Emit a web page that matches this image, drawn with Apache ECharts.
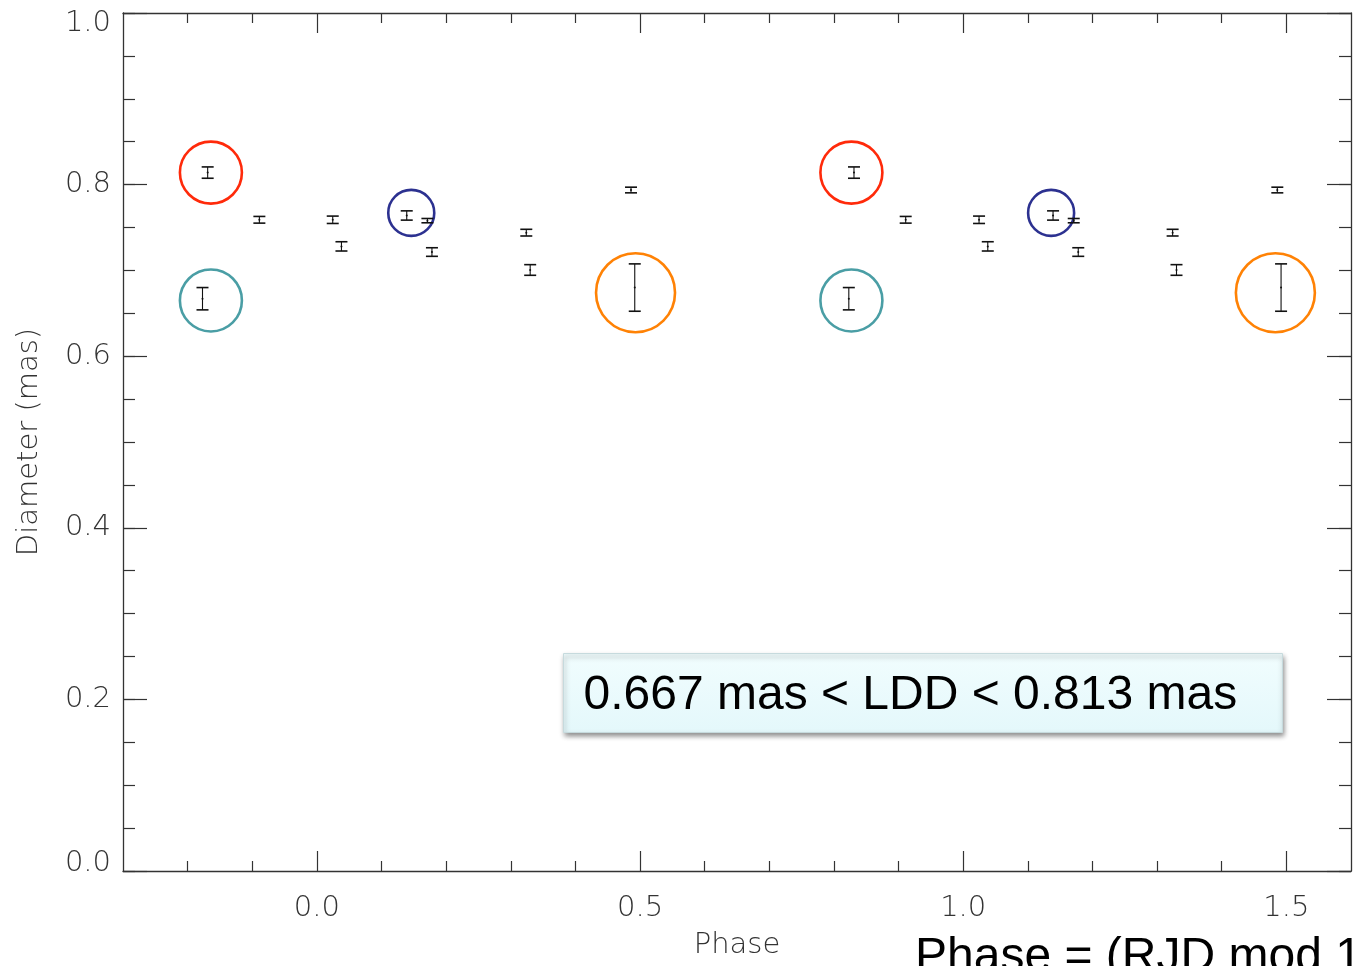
<!DOCTYPE html>
<html>
<head>
<meta charset="utf-8">
<title>Diameter vs Phase</title>
<script src="https://cdn.jsdelivr.net/npm/echarts@6/dist/echarts.min.js"></script>
<style>
  html, body { margin: 0; padding: 0; background: #ffffff; }
  #chart { width: 1354px; height: 966px; }
</style>
</head>
<body>
<div id="chart"></div>
<script>
// Measured limb-darkened diameters: [phase, diameter (mas), 1-sigma error]
const cycleA = [
  [-0.169, 0.814, 0.0066],
  [-0.177, 0.667, 0.0130],
  [-0.089, 0.759, 0.0039],
  [ 0.0245, 0.759, 0.0043],
  [ 0.038, 0.728, 0.0054],
  [ 0.139, 0.764, 0.0054],
  [ 0.171, 0.758, 0.0025],
  [ 0.178, 0.7214, 0.0050],
  [ 0.324, 0.744, 0.0039],
  [ 0.330, 0.7005, 0.0062],
  [ 0.486, 0.7937, 0.0033],
  [ 0.4918, 0.680, 0.0276]
];
// Same measurements folded one cycle later
const cycleB = [
  [0.831, 0.814, 0.0066],
  [0.823, 0.667, 0.0130],
  [0.911, 0.759, 0.0039],
  [1.0245, 0.759, 0.0043],
  [1.038, 0.728, 0.0054],
  [1.139, 0.764, 0.0054],
  [1.171, 0.758, 0.0025],
  [1.178, 0.7214, 0.0050],
  [1.324, 0.744, 0.0039],
  [1.330, 0.7005, 0.0062],
  [1.486, 0.7937, 0.0033],
  [1.4918, 0.680, 0.0276]
];

// Highlight rings around selected epochs: [phase, diameter]
const ringRed    = [[-0.164, 0.814], [0.827, 0.814]];
const ringCyan   = [[-0.164, 0.665], [0.827, 0.665]];
const ringNavy   = [[0.146, 0.767], [1.136, 0.767]];
const ringOrange = [[0.493, 0.674], [1.483, 0.674]];

const xLabelTicks = [0.0, 0.5, 1.0, 1.5];
const yLabelTicks = [0.0, 0.2, 0.4, 0.6, 0.8, 1.0];
const xMinorTicks = [-0.2, -0.1, 0.1, 0.2, 0.3, 0.4, 0.6, 0.7, 0.8, 0.9, 1.1, 1.2, 1.3, 1.4];

const rangeText = '0.667 mas < LDD < 0.813 mas';
const footText = 'Phase = (RJD mod 1';

const AXIS_COLOR = '#333333';
const LABEL_FONT = { fontFamily: 'DejaVu Sans', fontWeight: 200, fontSize: 29, color: '#333333' };

const chart = echarts.init(document.getElementById('chart'), null, { renderer: 'canvas' });

const gridRect = { left: 123, top: 13, width: 1228, height: 858 };

function xAxisBase(gridIndex, position) {
  return {
    type: 'value', gridIndex: gridIndex, position: position,
    min: -0.3, max: 1.6, interval: 0.1,
    splitLine: { show: false },
    axisLine: { show: gridIndex === 0, onZero: false, lineStyle: { color: AXIS_COLOR, width: 1.3 } },
    axisLabel: { show: false },
    axisTick: { inside: true, length: 10, lineStyle: { color: AXIS_COLOR, width: 1.2 } }
  };
}
function yAxisBase(gridIndex, position) {
  return {
    type: 'value', gridIndex: gridIndex, position: position,
    min: 0, max: 1, interval: 0.05,
    splitLine: { show: false },
    axisLine: { show: gridIndex === 0, onZero: false, lineStyle: { color: AXIS_COLOR, width: 1.3 } },
    axisLabel: { show: false },
    axisTick: { inside: true, length: 12, lineStyle: { color: AXIS_COLOR, width: 1.2 } }
  };
}

// Bottom axis: minor ticks + labels + name
const xBottom = xAxisBase(0, 'bottom');
xBottom.axisTick.customValues = xMinorTicks;
xBottom.axisLabel = Object.assign({
  show: true, customValues: xLabelTicks, margin: 23,
  formatter: v => Number(v).toFixed(1)
}, LABEL_FONT);
xBottom.name = 'Phase';
xBottom.nameLocation = 'middle';
xBottom.nameGap = 60;
xBottom.nameTextStyle = Object.assign({}, LABEL_FONT);

const xTop = xAxisBase(0, 'top');
xTop.axisTick.customValues = xMinorTicks;

// Major tick overlays
const xBottomMajor = xAxisBase(1, 'bottom');
xBottomMajor.axisTick = { inside: true, length: 20, customValues: xLabelTicks, lineStyle: { color: AXIS_COLOR, width: 1.2 } };
const xTopMajor = xAxisBase(1, 'top');
xTopMajor.axisTick = { inside: true, length: 20, customValues: xLabelTicks, lineStyle: { color: AXIS_COLOR, width: 1.2 } };

const yLeft = yAxisBase(0, 'left');
yLeft.axisLabel = Object.assign({
  show: true, customValues: yLabelTicks, margin: 12,
  formatter: v => {
    const s = Number(v).toFixed(1);
    if (v <= 0) return '{lo|' + s + '}';
    if (v >= 1) return '{hi|' + s + '}';
    return s;
  },
  rich: {
    lo: Object.assign({ padding: [0, 0, 16, 0] }, LABEL_FONT),
    hi: Object.assign({ padding: [20, 0, 0, 0] }, LABEL_FONT)
  }
}, LABEL_FONT);
yLeft.name = 'Diameter (mas)';
yLeft.nameLocation = 'middle';
yLeft.nameGap = 79;
yLeft.nameRotate = 90;
yLeft.nameTextStyle = Object.assign({}, LABEL_FONT);

const yRight = yAxisBase(0, 'right');

const yLeftMajor = yAxisBase(1, 'left');
yLeftMajor.axisTick = { inside: true, length: 24, customValues: yLabelTicks, lineStyle: { color: AXIS_COLOR, width: 1.2 } };
const yRightMajor = yAxisBase(1, 'right');
yRightMajor.axisTick = { inside: true, length: 24, customValues: yLabelTicks, lineStyle: { color: AXIS_COLOR, width: 1.2 } };

// Error bar glyph: vertical bar with caps and a tiny centre dot
function renderErrorBar(params, api) {
  const x = api.value(0), y = api.value(1), e = api.value(2);
  const top = api.coord([x, y + e]);
  const bot = api.coord([x, y - e]);
  const mid = api.coord([x, y]);
  const hw = 6;
  const stroke = { stroke: '#111111', lineWidth: 1.1 };
  const cap = { stroke: '#111111', lineWidth: 1.6 };
  return {
    type: 'group',
    children: [
      { type: 'line', shape: { x1: top[0], y1: top[1], x2: bot[0], y2: bot[1] }, style: stroke },
      { type: 'line', shape: { x1: top[0] - hw, y1: top[1], x2: top[0] + hw, y2: top[1] }, style: cap },
      { type: 'line', shape: { x1: bot[0] - hw, y1: bot[1], x2: bot[0] + hw, y2: bot[1] }, style: cap },
      { type: 'circle', shape: { cx: mid[0], cy: mid[1], r: 1 }, style: { fill: '#111111' } }
    ]
  };
}

function ringSeries(data, color, size) {
  return {
    type: 'scatter', xAxisIndex: 0, yAxisIndex: 0,
    data: data, symbol: 'circle', symbolSize: size, silent: true,
    itemStyle: { color: 'rgba(0,0,0,0)', borderColor: color, borderWidth: 2.6, opacity: 1 },
    z: 3
  };
}

const option = {
  backgroundColor: '#ffffff',
  animation: false,
  grid: [Object.assign({}, gridRect), Object.assign({}, gridRect)],
  xAxis: [xBottom, xTop, xBottomMajor, xTopMajor],
  yAxis: [yLeft, yRight, yLeftMajor, yRightMajor],
  series: [
    { type: 'custom', xAxisIndex: 0, yAxisIndex: 0, renderItem: renderErrorBar,
      encode: { x: 0, y: 1 }, data: cycleA, z: 4 },
    { type: 'custom', xAxisIndex: 0, yAxisIndex: 0, renderItem: renderErrorBar,
      encode: { x: 0, y: 1 }, data: cycleB, z: 4 },
    ringSeries(ringRed, '#ff2a0a', 62),
    ringSeries(ringCyan, '#4a9ea5', 62),
    ringSeries(ringNavy, '#2c3190', 46),
    ringSeries(ringOrange, '#ff8205', 79)
  ],
  graphic: [
    {
      type: 'group', left: 563, top: 653, z: 10,
      children: [
        {
          type: 'rect', shape: { x: 0, y: 0, width: 719, height: 79 },
          style: {
            fill: new echarts.graphic.LinearGradient(0, 0, 0, 1, [
              { offset: 0, color: '#f1fdfe' },
              { offset: 1, color: '#e4f8fb' }
            ]),
            stroke: '#c6dadd', lineWidth: 1,
            shadowBlur: 5, shadowOffsetX: 1, shadowOffsetY: 3, shadowColor: 'rgba(0,0,0,0.45)'
          }
        },
        {
          type: 'text', x: 20, y: 42,
          style: {
            text: rangeText, fill: '#000000',
            font: '48px "Liberation Sans", Arial, sans-serif',
            verticalAlign: 'middle', align: 'left'
          }
        }
      ]
    },
    {
      type: 'text', x: 915, y: 958, z: 10,
      style: {
        text: footText, fill: '#000000',
        font: '48px "Liberation Sans", Arial, sans-serif',
        verticalAlign: 'middle', align: 'left'
      }
    }
  ]
};

chart.setOption(option);
</script>
</body>
</html>
